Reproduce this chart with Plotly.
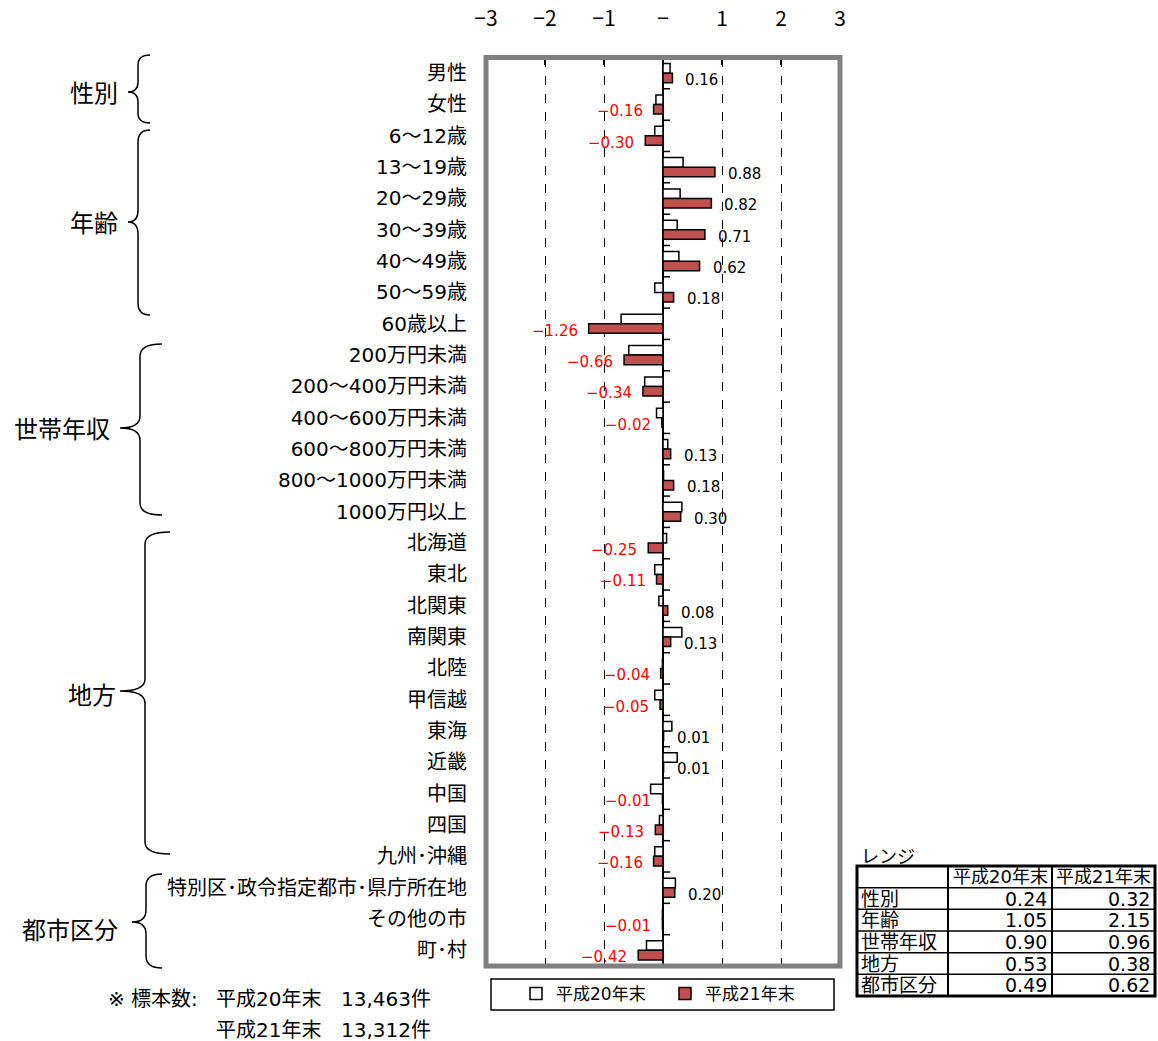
import plotly.graph_objects as go

W, H = 1158, 1041
FONT = "Noto Sans CJK JP"
MIX = "DejaVu Sans, Noto Sans CJK JP"

categories = ["男性", "女性", "6～12歳", "13～19歳", "20～29歳", "30～39歳", "40～49歳",
              "50～59歳", "60歳以上", "200万円未満", "200～400万円未満", "400～600万円未満",
              "600～800万円未満", "800～1000万円未満", "1000万円以上", "北海道", "東北",
              "北関東", "南関東", "北陸", "甲信越", "東海", "近畿", "中国", "四国",
              "九州･沖縄", "特別区･政令指定都市･県庁所在地", "その他の市", "町･村"]

h20_values = [0.12, -0.12, -0.14, 0.34, 0.29, 0.24, 0.27, -0.14, -0.71, -0.58, -0.31,
              -0.11, 0.08, 0.01, 0.32, 0.06, -0.14, -0.07, 0.32, -0.01, -0.14, 0.15,
              0.24, -0.21, -0.06, -0.14, 0.21, -0.01, -0.28]

h21_values = [0.16, -0.16, -0.30, 0.88, 0.82, 0.71, 0.62, 0.18, -1.26, -0.66, -0.34,
              -0.02, 0.13, 0.18, 0.30, -0.25, -0.11, 0.08, 0.13, -0.04, -0.05, 0.01,
              0.01, -0.01, -0.13, -0.16, 0.20, -0.01, -0.42]

series_names = ["平成20年末", "平成21年末"]

x_tickvals = [-3, -2, -1, 0, 1, 2, 3]
x_ticktext = ["−3", "−2", "−1", "−", "1", "2", "3"]

group_labels = ["性別", "年齢", "世帯年収", "地方", "都市区分"]

range_rows = ["性別", "年齢", "世帯年収", "地方", "都市区分"]
range_h20 = ["0.24", "1.05", "0.90", "0.53", "0.49"]
range_h21 = ["0.32", "2.15", "0.96", "0.38", "0.62"]

sample_labels = ["平成20年末", "平成21年末"]
sample_counts = ["13,463件", "13,312件"]


def px(x):
    return x / W


def py(y):
    return 1 - y / H


idx = list(range(len(categories)))

fig = go.Figure()
fig.add_trace(go.Bar(
    y=idx, x=h20_values, orientation="h", name=series_names[0],
    marker=dict(color="white", line=dict(color="black", width=1.5)),
))
fig.add_trace(go.Bar(
    y=idx, x=h21_values, orientation="h", name=series_names[1],
    marker=dict(color="#C0504D", line=dict(color="black", width=1.5)),
))

annotations = []
for i, v in enumerate(h21_values):
    if v >= 0:
        annotations.append(dict(x=v, y=i + 0.22, xref="x", yref="y", text=f"{v:.2f}",
                                showarrow=False, xanchor="left", xshift=11,
                                font=dict(family=MIX, size=15, color="black")))
    else:
        annotations.append(dict(x=v, y=i + 0.22, xref="x", yref="y",
                                text="−" + f"{abs(v):.2f}",
                                showarrow=False, xanchor="right", xshift=-9,
                                font=dict(family=MIX, size=15, color="#FF0000")))

# group labels
group_pos = [(94, 91), (94, 222), (62, 428), (92, 693), (70, 928)]
for lab, (gx, gy) in zip(group_labels, group_pos):
    annotations.append(dict(x=px(gx), y=py(gy), xref="paper", yref="paper", text=lab,
                            showarrow=False, xanchor="center", yanchor="middle",
                            font=dict(family=FONT, size=24, color="black")))

# footnote
annotations.append(dict(x=px(106), y=py(999), xref="paper", yref="paper", text="※ 標本数:",
                        showarrow=False, xanchor="left", yanchor="middle",
                        font=dict(family=MIX, size=20, color="black")))
for k, (sl, sc) in enumerate(zip(sample_labels, sample_counts)):
    yy = 999 + k * 31
    annotations.append(dict(x=px(214), y=py(yy), xref="paper", yref="paper", text=sl,
                            showarrow=False, xanchor="left", yanchor="middle",
                            font=dict(family=MIX, size=20, color="black")))
    annotations.append(dict(x=px(433), y=py(yy), xref="paper", yref="paper", text=sc,
                            showarrow=False, xanchor="right", yanchor="middle",
                            font=dict(family=MIX, size=20, color="black")))

shapes = []
# small ticks on the zero axis between categories
for i in range(len(categories) + 1):
    shapes.append(dict(type="line", xref="x", yref="y", xsizemode="pixel", xanchor=0,
                       x0=0, x1=7, y0=i - 0.5, y1=i - 0.5,
                       line=dict(color="black", width=1.5)))

# plot frame (thick grey)
shapes.append(dict(type="rect", xref="x domain", yref="y domain", x0=0, x1=1, y0=0, y1=1,
                   line=dict(color="#808080", width=5), layer="above"))


def brace(xe, xv, xt, ytop, ymid, ybot, r=12):
    pts = (f"M {px(xe)},{py(ytop)} Q {px(xv)},{py(ytop)} {px(xv)},{py(ytop + r)} "
           f"L {px(xv)},{py(ymid - r)} Q {px(xv)},{py(ymid)} {px(xt)},{py(ymid)} "
           f"Q {px(xv)},{py(ymid)} {px(xv)},{py(ymid + r)} "
           f"L {px(xv)},{py(ybot - r)} Q {px(xv)},{py(ybot)} {px(xe)},{py(ybot)}")
    return dict(type="path", xref="paper", yref="paper", path=pts,
                line=dict(color="black", width=1.5))


shapes.append(brace(150, 138, 128, 55, 92, 123, r=10))
shapes.append(brace(150, 138, 128, 130, 222, 315))
shapes.append(brace(162, 140, 120, 344, 428, 515))
shapes.append(brace(170, 145, 120, 532, 691, 854))
shapes.append(brace(162, 146, 132, 874, 922, 968))

# legend frame
shapes.append(dict(type="rect", xref="paper", yref="paper", x0=px(491), x1=px(834),
                   y0=py(1010), y1=py(979), line=dict(color="black", width=1.5)))

# range table (drawn with lines and text)
col_x = [857, 948, 1052, 1155]
n_rows = len(range_rows) + 1
ty0, ty1 = 866, 996
row_h = (ty1 - ty0) / n_rows
row_y = [ty0 + k * row_h for k in range(n_rows + 1)]
for yy in row_y[1:-1]:
    shapes.append(dict(type="line", xref="paper", yref="paper", x0=px(col_x[0]),
                       x1=px(col_x[-1]), y0=py(yy), y1=py(yy),
                       line=dict(color="black", width=1.5)))
for xx in col_x[1:-1]:
    shapes.append(dict(type="line", xref="paper", yref="paper", x0=px(xx), x1=px(xx),
                       y0=py(ty0), y1=py(ty1), line=dict(color="black", width=2)))
shapes.append(dict(type="rect", xref="paper", yref="paper", x0=px(col_x[0]),
                   x1=px(col_x[-1]), y0=py(ty1), y1=py(ty0),
                   line=dict(color="black", width=3)))

annotations.append(dict(x=px(859), y=py(855), xref="paper", yref="paper", text="レンジ",
                        showarrow=False, xanchor="left", yanchor="middle",
                        font=dict(family=FONT, size=18, color="black")))
hfont = dict(family=MIX, size=18, color="black")
tfont = dict(family=MIX, size=19, color="black")
for c, name in enumerate(series_names):
    cx = (col_x[c + 1] + col_x[c + 2]) / 2
    annotations.append(dict(x=px(cx), y=py(row_y[0] + row_h / 2), xref="paper",
                            yref="paper", text=name, showarrow=False, xanchor="center",
                            yanchor="middle", font=hfont))
for r, (lab, a, b) in enumerate(zip(range_rows, range_h20, range_h21)):
    yc = py(row_y[r + 1] + row_h / 2)
    annotations.append(dict(x=px(col_x[0] + 2), y=yc, xref="paper", yref="paper",
                            text=lab, showarrow=False, xanchor="left", yanchor="middle",
                            font=tfont))
    annotations.append(dict(x=px(col_x[2] - 3), y=yc, xref="paper", yref="paper",
                            text=a, showarrow=False, xanchor="right", yanchor="middle",
                            font=tfont))
    annotations.append(dict(x=px(col_x[3] - 3), y=yc, xref="paper", yref="paper",
                            text=b, showarrow=False, xanchor="right", yanchor="middle",
                            font=tfont))

fig.update_layout(
    width=W, height=H,
    margin=dict(l=0, r=0, t=0, b=0, autoexpand=False),
    paper_bgcolor="white", plot_bgcolor="white",
    barmode="group", bargap=0.39, bargroupgap=0,
    font=dict(family=FONT, color="black"),
    annotations=annotations, shapes=shapes,
    legend=dict(orientation="h", x=px(516), y=py(994), xanchor="left", yanchor="middle",
                font=dict(family=MIX, size=17), bgcolor="rgba(0,0,0,0)",
                entrywidth=104, itemwidth=30),
    showlegend=True,
)
fig.update_xaxes(
    domain=[px(486), px(840)], range=[-3, 3], side="top", automargin=False,
    tickvals=x_tickvals, ticktext=x_ticktext, ticks="inside", ticklen=7,
    tickcolor="black", tickwidth=1.5, ticklabelstandoff=26,
    tickfont=dict(family=FONT, size=21, color="black"),
    showgrid=True, griddash="dash", gridcolor="black", gridwidth=1,
    zeroline=True, zerolinecolor="black", zerolinewidth=2,
    showline=False, fixedrange=True,
)
fig.update_yaxes(
    domain=[py(966), py(57.5)], range=[len(categories) - 0.5, -0.5], automargin=False,
    tickvals=idx, ticktext=categories, ticks="", ticklabelstandoff=18,
    tickfont=dict(family=MIX, size=20, color="black"),
    showgrid=False, zeroline=False, showline=False, fixedrange=True,
)

fig.write_html("out.html", config={"displayModeBar": False},
               post_script="document.body.style.margin='0px';")
